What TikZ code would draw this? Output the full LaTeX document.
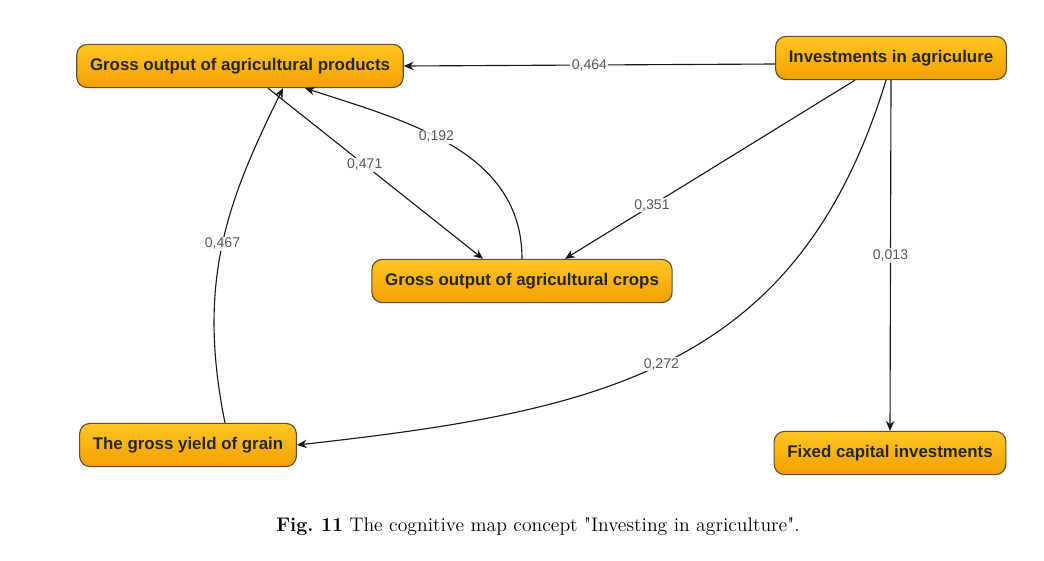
\documentclass[tikz,border=0pt]{standalone}
\usepackage{fontspec}
\newfontfamily\boxfont{Liberation Sans}
\usetikzlibrary{arrows.meta,calc}
\definecolor{boxtop}{HTML}{FFC623}
\definecolor{boxbot}{HTML}{F3A000}
\definecolor{boxline}{HTML}{5E4E36}

\begin{document}
\begin{tikzpicture}[x=0.025cm,y=-0.025cm,>={Stealth[length=7pt,width=6pt]},
   concept/.style={draw=boxline,line width=0.8pt,rounded corners=0.26cm,top color=boxtop,bottom color=boxbot,
     text=black!85,font=\boxfont\fontsize{12}{14}\selectfont\bfseries,inner xsep=0.33cm,minimum height=1.08cm},
   link/.style={->,line width=0.8pt,black!90},
   weight/.style={fill=white,fill opacity=0.85,text opacity=1,inner sep=1pt,text=black!65,font=\boxfont\fontsize{10}{12}\selectfont}]
  \useasboundingbox (0,0) rectangle (1044,560);
  \node[concept] (prod)  at (240,66)  {Gross output of agricultural products};
  \node[concept] (inv)   at (891,58)  {Investments in agriculure};
  \node[concept] (crops) at (522,281) {Gross output of agricultural crops};
  \node[concept] (grain) at (188,445) {The gross yield of grain};
  \node[concept] (fixed) at (890,453) {Fixed capital investments};
  % weighted links
  \draw[link] ($(inv.west)+(0,6)$) -- node[weight,pos=0.5] {0,464} (prod.east);
  \draw[link] ($(inv.south)+(-36,0)$) -- node[weight,pos=0.7] {0,351} ($(crops.north)+(43,0)$);
  \draw[link] (inv.south) -- node[weight] {0,013} (fixed.north);
  \draw[link] ($(inv.south)+(-5,0)$) .. controls (798,369) and (603,411) .. node[weight,pos=0.52] {0,272} (grain.east);
  \draw[link] ($(prod.south)+(28,0)$) -- node[weight,pos=0.45] {0,471} ($(crops.north)+(-39,0)$);
  \draw[link] (crops.north) to[out=90,in=-18] node[weight,pos=0.56] {0,192} ($(prod.south)+(65,0)$);
  \draw[link] ($(grain.north)+(37,0)$) .. controls (196,280) and (228,200) .. node[weight,pos=0.5] {0,467} ($(prod.south)+(43,0)$);
  \node[font=\fontsize{14}{16}\selectfont] (cap) at (538,527) {\textbf{Fig.\ 11} The cognitive map concept \textquotedbl Investing in agriculture\textquotedbl.};
\end{tikzpicture}
\end{document}
